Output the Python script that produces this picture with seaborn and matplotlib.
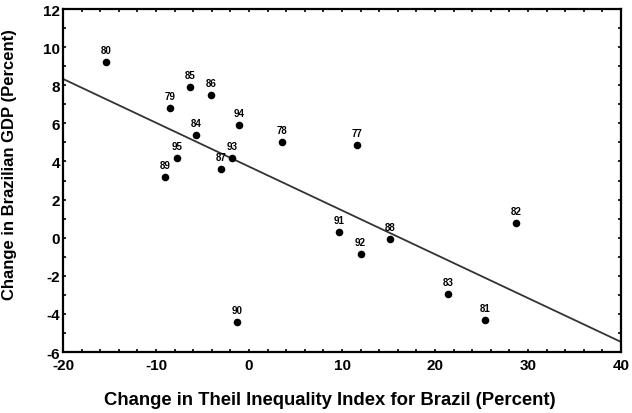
import numpy as np
import pandas as pd
import matplotlib
matplotlib.use("Agg")
import matplotlib.pyplot as plt
import seaborn as sns
from matplotlib.ticker import MultipleLocator

years = ["80", "85", "86", "79", "94", "84", "78", "95", "93", "87", "89",
         "77", "91", "88", "92", "82", "83", "81", "90"]
theil_change = [-15.4, -6.3, -4.05, -8.5, -1.1, -5.7, 3.6, -7.7, -1.8, -3.0, -9.0,
                11.6, 9.7, 15.2, 12.0, 28.7, 21.4, 25.4, -1.3]
gdp_change = [9.2, 7.89, 7.47, 6.81, 5.93, 5.41, 5.01, 4.17, 4.18, 3.59, 3.2,
              4.88, 0.32, -0.08, -0.84, 0.79, -2.97, -4.32, -4.41]

df = pd.DataFrame({"x": theil_change, "y": gdp_change, "year": years})

sns.set_style("white")
plt.rcParams["font.family"] = ["Liberation Sans", "DejaVu Sans"]
plt.rcParams["axes.unicode_minus"] = False
plt.rcParams["text.color"] = "black"
plt.rcParams["axes.labelcolor"] = "black"
plt.rcParams["xtick.color"] = "black"
plt.rcParams["ytick.color"] = "black"
plt.rcParams["xtick.labelcolor"] = "black"
plt.rcParams["ytick.labelcolor"] = "black"

fig = plt.figure(figsize=(6.32, 4.14), dpi=100)
ax = fig.add_axes([0.0997, 0.1473, 0.8829, 0.8285])
ax.set_xlim(-20, 40)
ax.set_ylim(-6, 12)

sns.regplot(data=df, x="x", y="y", ax=ax, ci=None, truncate=False,
            scatter_kws=dict(s=30, color="black", linewidths=0, alpha=1, zorder=3),
            line_kws=dict(color="#333333", lw=1.3, zorder=2))

for xv, yv, lab in zip(theil_change, gdp_change, years):
    ax.annotate(lab, (xv, yv), xytext=(0, 5), textcoords="offset points",
                ha="center", va="bottom", fontsize=7, fontweight="bold",
                color="black")

ax.set_xlim(-20, 40)
ax.set_ylim(-6, 12)
ax.xaxis.set_major_locator(MultipleLocator(10))
ax.xaxis.set_minor_locator(MultipleLocator(2))
ax.yaxis.set_major_locator(MultipleLocator(2))
ax.yaxis.set_minor_locator(MultipleLocator(1))
ax.tick_params(which="both", direction="in", top=True, right=True,
               bottom=True, left=True, length=2.5, width=1.2, color="black",
               labelcolor="black")
ax.tick_params(which="major", labelsize=11)
ax.tick_params(axis="x", which="major", pad=4.5)
ax.tick_params(axis="y", which="major", pad=2)
for lab in ax.get_xticklabels() + ax.get_yticklabels():
    lab.set_fontweight("bold")
for s in ax.spines.values():
    s.set_linewidth(1.6)
    s.set_color("black")

ax.set_xlabel("Change in Theil Inequality Index for Brazil (Percent)",
              fontsize=13.3, fontweight="bold", color="black")
ax.set_ylabel("Change in Brazilian GDP (Percent)",
              fontsize=12, fontweight="bold", color="black")
ax.xaxis.set_label_coords(0.4785, -0.115)
ax.yaxis.set_label_coords(-0.083, 0.548)

fig.savefig("out.png", dpi=100)
